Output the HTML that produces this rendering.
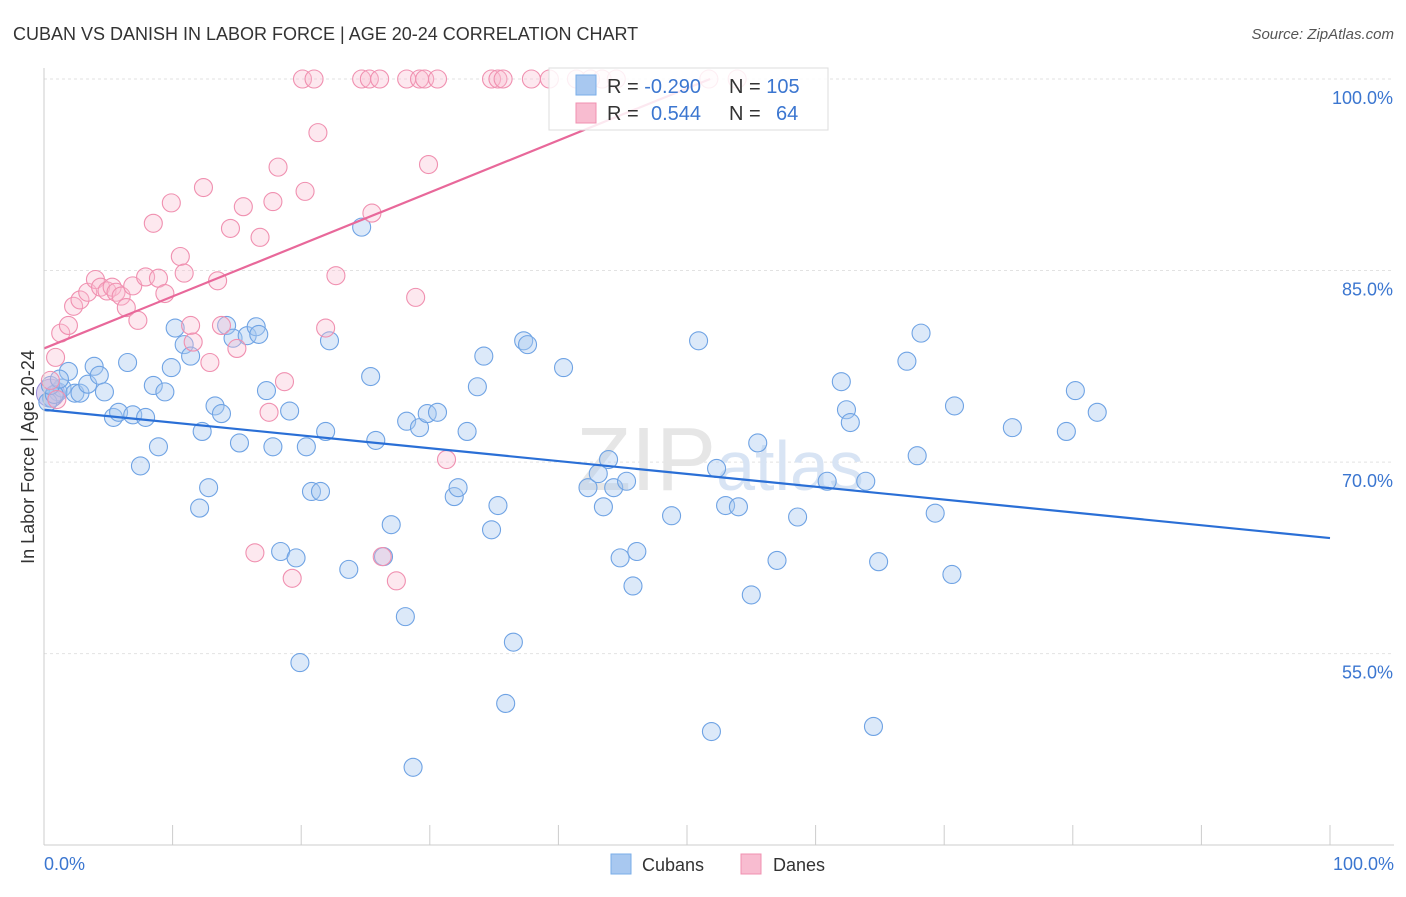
<!DOCTYPE html>
<html><head><meta charset="utf-8"><style>
body{margin:0;background:#fff;font-family:"Liberation Sans",sans-serif}
svg text{font-family:"Liberation Sans",sans-serif}
</style></head><body>
<svg width="1406" height="892">
<text x="13" y="40" font-size="18" fill="#333">CUBAN VS DANISH IN LABOR FORCE | AGE 20-24 CORRELATION CHART</text>
<text x="1394" y="39" font-size="15" fill="#555" font-style="italic" text-anchor="end">Source: ZipAtlas.com</text>
<g id="grid"></g>
<text x="720" y="490" font-size="90" fill="#e6e6e6" text-anchor="middle" font-family="Liberation Serif">ZIP<tspan fill="#d8e4f4" font-family="Liberation Sans" font-size="70">atlas</tspan></text>
<g id="pts"></g>
<g id="lines"></g>
<line x1="44" y1="68" x2="44" y2="845" stroke="#ccc"/>
<line x1="44" y1="845" x2="1394" y2="845" stroke="#ccc"/>
<text x="44" y="870" font-size="18" fill="#3b76d0">0.0%</text>
<text x="1394" y="870" font-size="18" fill="#3b76d0" text-anchor="end">100.0%</text>
<text transform="translate(34,457) rotate(-90)" font-size="18" fill="#333" text-anchor="middle">In Labor Force | Age 20-24</text>
<g>
<rect x="549" y="68" width="279" height="62" fill="#fff" fill-opacity="0.85" stroke="#ddd"/>
<rect x="576" y="75" width="20" height="20" fill="#a8c8f0" stroke="#7aaee8"/>
<rect x="576" y="103" width="20" height="20" fill="#f8bcd0" stroke="#f090b0"/>
<text x="607" y="93" font-size="20" fill="#333">R = <tspan fill="#3b76d0">-0.290</tspan></text>
<text x="729" y="93" font-size="20" fill="#333">N = <tspan fill="#3b76d0">105</tspan></text>
<text x="607" y="120" font-size="20" fill="#333">R = <tspan fill="#3b76d0" x="651">0.544</tspan></text>
<text x="729" y="120" font-size="20" fill="#333">N = <tspan fill="#3b76d0" x="776">64</tspan></text>
</g>
<g>
<rect x="611" y="854" width="20" height="20" fill="#a8c8f0" stroke="#7aaee8"/>
<text x="642" y="871" font-size="18" fill="#333">Cubans</text>
<rect x="741" y="854" width="20" height="20" fill="#f8bcd0" stroke="#f090b0"/>
<text x="773" y="871" font-size="18" fill="#333">Danes</text>
</g>
</svg>
<script>
const yTicks=[100,85,70,55];
const yTickLabels=["100.0%","85.0%","70.0%","55.0%"];
const xTicks=[10,20,30,40,50,60,70,80,90,100];
const cubanX=[0.6,1.1,1.4,1.9,2.4,2.8,3.4,3.9,4.3,4.7,5.4,5.8,6.5,6.9,7.5,7.9,8.5,8.9,9.4,9.9,10.2,10.9,11.4,12.1,12.3,12.8,13.3,13.8,14.2,14.7,15.2,15.8,16.5,16.7,17.3,17.8,18.4,19.1,19.6,19.9,20.4,20.8,21.5,21.9,22.2,23.7,24.7,25.4,25.8,26.4,27.0,28.1,28.2,29.2,29.8,30.6,28.7,31.9,32.2,32.9,33.7,34.2,34.8,35.3,35.9,36.5,37.3,37.6,40.4,42.3,43.1,43.5,43.9,44.3,44.8,45.3,45.8,46.1,48.8,50.9,51.9,52.3,53.0,54.0,55.0,55.5,57.0,58.6,60.9,62.0,62.4,62.7,63.9,64.5,64.9,67.1,67.9,68.2,69.3,70.6,70.8,75.3,79.5,80.2,81.9,0.3,0.8,0.5,1.2];
const cubanY=[75.0,75.5,75.8,77.1,75.4,75.4,76.1,77.5,76.8,75.5,73.5,73.9,77.8,73.7,69.7,73.5,76.0,71.2,75.5,77.4,80.5,79.2,78.3,66.4,72.4,68.0,74.4,73.8,80.7,79.7,71.5,79.9,80.6,80.0,75.6,71.2,63.0,74.0,62.5,54.3,71.2,67.7,67.7,72.4,79.5,61.6,88.4,76.7,71.7,62.6,65.1,57.9,73.2,72.7,73.8,73.9,46.1,67.3,68.0,72.4,75.9,78.3,64.7,66.6,51.1,55.9,79.5,79.2,77.4,68.0,69.1,66.5,70.2,68.0,62.5,68.5,60.3,63.0,65.8,79.5,48.9,69.5,66.6,66.5,59.6,71.5,62.3,65.7,68.5,76.3,74.1,73.1,68.5,49.3,62.2,77.9,70.5,80.1,66.0,61.2,74.4,72.7,72.4,75.6,73.9,74.7,75.3,76.0,76.5];
const daneX=[20.1,21.0,24.7,25.3,26.1,28.2,29.2,29.6,30.6,34.8,35.3,35.7,37.9,39.3,41.4,42.5,43.4,44.5,51.7,53.9,0.9,1.3,1.9,2.3,2.8,3.4,4.0,4.4,4.9,5.3,5.6,6.0,6.4,6.9,7.3,7.9,8.5,8.9,9.4,9.9,10.6,10.9,11.4,11.6,12.4,12.9,13.5,13.8,14.5,15.0,15.5,16.4,16.8,17.5,17.8,18.2,18.7,19.3,20.3,21.3,21.9,22.7,25.5,26.3,27.4,28.9,29.9,31.3,1.0,0.5];
const daneY=[100,100,100,100,100,100,100,100,100,100,100,100,100,100,100,100,100,100,100,100,78.2,80.1,80.7,82.2,82.7,83.3,84.3,83.7,83.4,83.7,83.3,83.0,82.1,83.8,81.1,84.5,88.7,84.4,83.2,90.3,86.1,84.8,80.7,79.4,91.5,77.8,84.2,80.7,88.3,78.9,90.0,62.9,87.6,73.9,90.4,93.1,76.3,60.9,91.2,95.8,80.5,84.6,89.5,62.6,60.7,82.9,93.3,70.2,74.9,76.4];
const cubanTrend=[74.1,64.05];
const daneTrend=[78.9,100,51.8];
const NS="http://www.w3.org/2000/svg";
const sx=v=>44+v*12.86, sy=v=>79+(100-v)*12.77;
function mk(t,a,p){const e=document.createElementNS(NS,t);for(const k in a)e.setAttribute(k,a[k]);p.appendChild(e);return e;}
const grid=document.getElementById('grid');
yTicks.forEach((t,i)=>{
 const l=mk('line',{x1:44,x2:1394,y1:sy(t),y2:sy(t),stroke:'#e2e2e2','stroke-dasharray':'3,3'},grid);
 
 
 const tx=mk('text',{x:1393,y:sy(t)+25,'font-size':18,fill:'#3b76d0','text-anchor':'end'},grid);
 tx.textContent=yTickLabels[i];
 
 
});
xTicks.forEach(t=>{
 const l=mk('line',{x1:sx(t),x2:sx(t),y1:825,y2:845,stroke:'#ccc'},grid);
 
 
});
const pts=document.getElementById('pts');
mk('circle',{cx:sx(0.5),cy:sy(75.4),r:14,fill:'#b8a8e0','fill-opacity':0.5,stroke:'#9a8ad8'},pts);
cubanX.forEach((x,i)=>{
 const c=mk('circle',{cx:sx(x),cy:sy(cubanY[i]),r:9,fill:'#a8c8f0','fill-opacity':0.4,stroke:'#6fa3e4','stroke-width':1.1},pts);
 
 
});
daneX.forEach((x,i)=>{
 const c=mk('circle',{cx:sx(x),cy:sy(daneY[i]),r:9,fill:'#f8bcd0','fill-opacity':0.35,stroke:'#f090b0','stroke-width':1.1},pts);
 
 
});
const lines=document.getElementById('lines');
const bl=mk('line',{x1:sx(0),y1:sy(cubanTrend[0]),x2:sx(100),y2:sy(cubanTrend[1]),stroke:'#2a6fd6','stroke-width':2.2},lines);


const pl=mk('line',{x1:sx(0),y1:sy(daneTrend[0]),x2:sx(daneTrend[2]),y2:sy(daneTrend[1]),stroke:'#e8689a','stroke-width':2.2},lines);


</script>
</body></html>
